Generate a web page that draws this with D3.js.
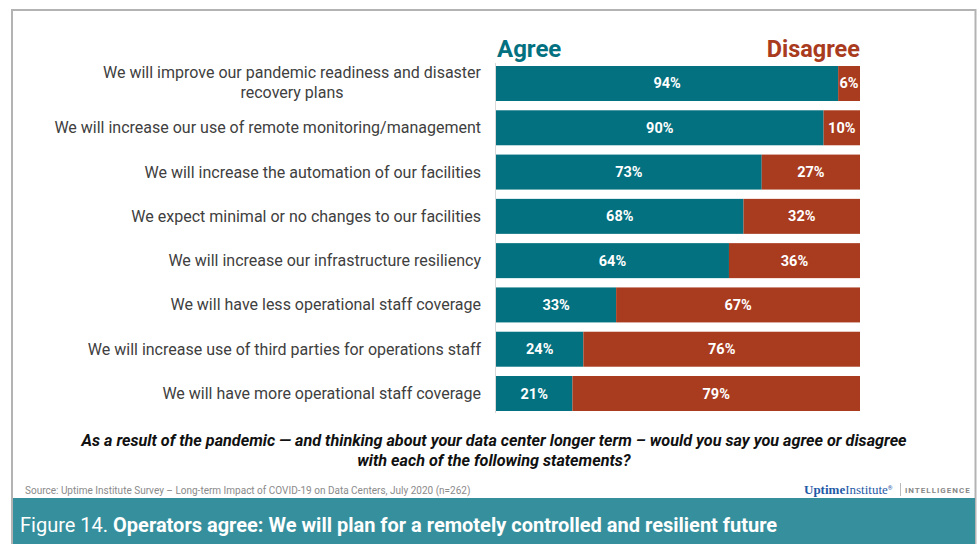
<!DOCTYPE html>
<html><head><meta charset="utf-8">
<script src="https://cdn.jsdelivr.net/npm/d3@7"></script>
<style>body{margin:0;background:#fff}svg{display:block;font-family:Roboto,"Noto Sans",sans-serif}</style>
</head><body><svg id="c" width="979" height="544"></svg>
<script>
const categories = [
  ["We will improve our pandemic readiness and disaster","recovery plans"],
  ["We will increase our use of remote monitoring/management"],
  ["We will increase the automation of our facilities"],
  ["We expect minimal or no changes to our facilities"],
  ["We will increase our infrastructure resiliency"],
  ["We will have less operational staff coverage"],
  ["We will increase use of third parties for operations staff"],
  ["We will have more operational staff coverage"]
];
const agree = [94, 90, 73, 68, 64, 33, 24, 21];
const disagree = [6, 10, 27, 32, 36, 67, 76, 79];
const seriesNames = ["Agree", "Disagree"];
const questionLines = [
  "As a result of the pandemic — and thinking about your data center longer term – would you say you agree or disagree",
  "with each of the following statements?"
];
const sourceText = "Source: Uptime Institute Survey – Long-term Impact of COVID-19 on Data Centers, July 2020 (n=262)";
const titleLead = "Figure 14. ";
const titleBold = "Operators agree: We will plan for a remotely controlled and resilient future";

const teal = "#03717f", rust = "#a93b1e";
const svg = d3.select("#c");

// frame
svg.append("path").attr("d","M12,545 V10 H975.5 V545").attr("fill","none").attr("stroke","#b3b3b3").attr("stroke-width",2);

const x = d3.scaleLinear().domain([0,100]).range([496,860]);
const y = d3.scaleBand().domain(d3.range(categories.length)).range([66,411]).paddingInner(0.21).paddingOuter(0);

// axis line
svg.append("line").attr("x1",495.5).attr("x2",495.5).attr("y1",63).attr("y2",413).attr("stroke","#d9d9d9").attr("stroke-width",1);

const rows = svg.append("g").selectAll("g").data(categories).join("g");
rows.append("rect").attr("x",x(0)).attr("y",(d,i)=>y(i)).attr("width",(d,i)=>x(agree[i])-x(0)).attr("height",y.bandwidth()).attr("fill",teal);
rows.append("rect").attr("x",(d,i)=>x(agree[i])).attr("y",(d,i)=>y(i)).attr("width",(d,i)=>x(agree[i]+disagree[i])-x(agree[i])).attr("height",y.bandwidth()).attr("fill",rust);
rows.append("text").attr("x",(d,i)=>(x(0)+x(agree[i]))/2).attr("y",(d,i)=>y(i)+y.bandwidth()/2+5)
  .attr("text-anchor","middle").attr("fill","#fff").attr("font-weight","bold").attr("font-size",14.5).text((d,i)=>agree[i]+"%");
rows.append("text").attr("x",(d,i)=>(x(agree[i])+x(100))/2).attr("y",(d,i)=>y(i)+y.bandwidth()/2+5)
  .attr("text-anchor","middle").attr("fill","#fff").attr("font-weight","bold").attr("font-size",14.5).text((d,i)=>disagree[i]+"%");

// category labels
rows.each(function(d,i){
  const g = d3.select(this);
  const cy = y(i)+y.bandwidth()/2;
  if (d.length===1){
    g.append("text").attr("x",481).attr("y",cy+5.5).attr("text-anchor","end").attr("fill","#404040").attr("font-size",16).text(d[0]);
  } else {
    const t1 = g.append("text").attr("x",481).attr("y",cy-5).attr("text-anchor","end").attr("fill","#404040").attr("font-size",16).text(d[0]);
    const w = t1.node().getComputedTextLength();
    g.append("text").attr("x",481-w/2).attr("y",cy+15).attr("text-anchor","middle").attr("fill","#404040").attr("font-size",16).text(d[1]);
  }
});

// series headers
svg.append("text").attr("x",x(0)+1).attr("y",57).attr("fill",teal).attr("font-weight","bold").attr("font-size",24).text(seriesNames[0]);
svg.append("text").attr("x",x(100)).attr("y",57).attr("text-anchor","end").attr("fill",rust).attr("font-weight","bold").attr("font-size",23.5).text(seriesNames[1]);

// question
questionLines.forEach((t,k)=>{
  svg.append("text").attr("x",494).attr("y",446+k*20).attr("text-anchor","middle").attr("font-weight","bold").attr("font-style","italic")
    .attr("font-size",16.2).attr("fill","#111").text(t);
});

// source
svg.append("text").attr("x",25).attr("y",494).attr("font-size",10).attr("fill","#8a8a8a").text(sourceText);

// logo
const logo = svg.append("text").attr("x",804).attr("y",494).attr("font-size",13);
logo.append("tspan").attr("font-family","'Liberation Serif',serif").attr("font-weight","bold").attr("fill","#1f5aa6").text("Uptime");
logo.append("tspan").attr("font-family","'Liberation Serif',serif").attr("fill","#1f5aa6").text("Institute");
logo.append("tspan").attr("font-size",6).attr("dy",-4).attr("fill","#1f5aa6").text("®");
svg.append("line").attr("x1",900.5).attr("x2",900.5).attr("y1",483).attr("y2",496).attr("stroke","#bbb");
svg.append("text").attr("x",905).attr("y",493).attr("font-size",8).attr("font-weight","bold").attr("letter-spacing",1.0).attr("fill","#888").text("INTELLIGENCE");

// banner
svg.append("rect").attr("x",13).attr("y",498).attr("width",962).attr("height",46).attr("fill","#368f9d");
const tt = svg.append("text").attr("x",20).attr("y",532).attr("font-size",20).attr("fill","#fff");
tt.append("tspan").text(titleLead);
tt.append("tspan").attr("font-weight","bold").text(titleBold);
</script></body></html>
